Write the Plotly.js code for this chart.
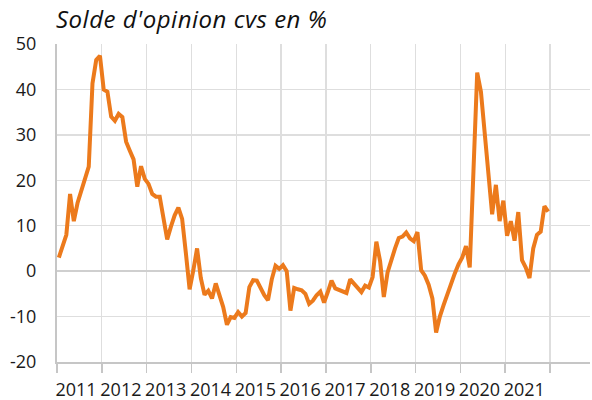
<!DOCTYPE html>
<html>
<head>
<meta charset="utf-8">
<script src="https://cdn.plot.ly/plotly-3.0.1.min.js"></script>
<style>html,body{margin:0;padding:0;background:#fff;}#chart{width:592px;height:400px;}
.gtitle{letter-spacing:0.5px;}</style>
</head>
<body>
<div id="chart"></div>
<script>
// Monthly values, Jan 2011 .. Dec 2021 (solde d'opinion cvs, %)
var years = ['2011','2012','2013','2014','2015','2016','2017','2018','2019','2020','2021'];
var v2011 = [3, 5.4, 8, 17, 11, 15, 17.5, 20, 23, 41.3, 46.5, 47.4];
var v2012 = [40, 39.5, 34, 33.1, 34.6, 33.9, 28.5, 26.5, 24.6, 18.6, 23.1, 20.3];
var v2013 = [19.2, 17, 16.4, 16.4, 11, 7, 9.8, 12.3, 14, 11.5, 4, -4];
var v2014 = [0.2, 5, -1.5, -5.2, -4.3, -6, -2.7, -5.2, -7.9, -11.8, -10.1, -10.3];
var v2015 = [-9, -10, -9.2, -3.5, -2, -2.1, -3.8, -5.3, -6.4, -1.8, 1.2, 0.5];
var v2016 = [1.3, 0, -8.7, -3.7, -4, -4.2, -5, -7.2, -6.5, -5.3, -4.5, -6.9];
var v2017 = [-4.6, -2.1, -3.8, -4.1, -4.4, -4.8, -1.8, -2.8, -3.6, -4.6, -3.2, -3.6];
var v2018 = [-1.3, 6.5, 2.2, -5.7, -0.3, 2.5, 5, 7.3, 7.6, 8.5, 7.2, 6.6];
var v2019 = [8.6, 0.2, -1, -3, -6, -13.5, -10, -7.5, -5, -3, -0.5, 1.5];
var v2020 = [3, 5.5, 0.8, 22, 43.7, 39.5, 30, 21, 12.5, 19, 11, 15.5];
var v2021 = [7.8, 11, 6.7, 13, 2.4, 0.8, -1.5, 5, 8, 8.7, 14.3, 13.1];

var values = [].concat(v2011, v2012, v2013, v2014, v2015, v2016, v2017, v2018, v2019, v2020, v2021);
// month slots: each value is centred in its month slot
var x = values.map(function(_, i){ return i + 0.5; });
var labelPos = years.map(function(_, k){ return 12*k + 5.1; });
var bounds = [];
for (var k = 0; k <= years.length; k++) bounds.push(12*k);

var font = '"Open Sans", Lato, sans-serif';
var trace = {
  x: x, y: values, type: 'scatter', mode: 'lines',
  line: {color: '#EC7A1C', width: 4, shape: 'linear'},
  hoverinfo: 'skip'
};
var layout = {
  width: 592, height: 400,
  margin: {l: 57, r: 2, t: 44, b: 38, pad: 0},
  paper_bgcolor: '#fff', plot_bgcolor: '#fff',
  showlegend: false,
  title: {
    text: "Solde d'opinion cvs en %",
    font: {family: font, size: 24, color: '#111', style: 'italic'},
    xref: 'container', yref: 'container',
    x: 56/592, xanchor: 'left', y: 1 - 20/400, yanchor: 'middle'
  },
  xaxis: {
    range: [0, 142.7], fixedrange: true,
    tickmode: 'array', tickvals: labelPos, ticktext: years,
    ticks: '', showgrid: false, zeroline: false,
    ticklabelstandoff: 10,
    tickfont: {family: font, size: 18, color: '#1a1a1a'},
    showline: true, linecolor: '#C6C6C6', linewidth: 2,
    minor: {tickmode: 'array', tickvals: bounds, ticks: 'outside', ticklen: 9,
            tickcolor: '#C6C6C6', tickwidth: 1.5,
            showgrid: true, gridcolor: '#DEDEDE', gridwidth: 1.3}
  },
  yaxis: {
    range: [-20, 50], fixedrange: true,
    tickmode: 'array', tickvals: [-20,-10,0,10,20,30,40,50],
    ticktext: ['-20','-10','0','10','20','30','40','50'],
    ticks: '', ticklabelstandoff: 15,
    tickfont: {family: font, size: 18, color: '#1a1a1a'},
    showgrid: true, gridcolor: '#DEDEDE', gridwidth: 1.3,
    zeroline: true, zerolinecolor: '#CFCFCF', zerolinewidth: 2,
    showline: true, linecolor: '#C6C6C6', linewidth: 2
  }
};
Plotly.newPlot('chart', [trace], layout, {displayModeBar: false, staticPlot: true});
</script>
</body>
</html>
